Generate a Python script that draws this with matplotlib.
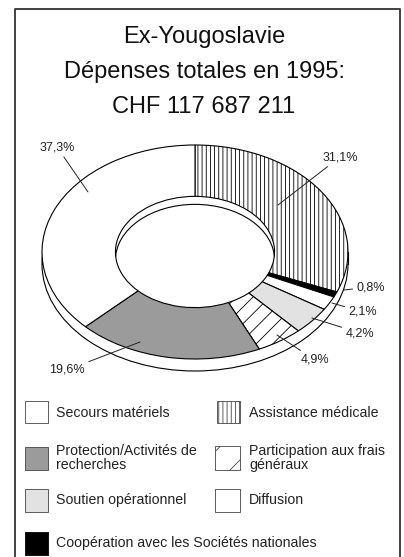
import matplotlib
matplotlib.use("Agg")
import matplotlib.pyplot as plt
from matplotlib.patches import Ellipse, Rectangle, Arc

# ---------------- data ----------------
categories = ["Assistance médicale", "Coopération avec les Sociétés nationales",
              "Diffusion", "Soutien opérationnel",
              "Participation aux frais\ngénéraux", "Protection/Activités de\nrecherches",
              "Secours matériels"]
values = [31.1, 0.8, 2.1, 4.2, 4.9, 19.6, 37.3]
title_lines = ["Ex-Yougoslavie", "Dépenses totales en 1995:", "CHF 117 687 211"]

# ---------------- styles ----------------
colors = ["white", "black", "white", "#e2e2e2", "white", "#9b9b9b", "white"]
hatches = ["||||", "", "", "", "//", "", ""]
FONT = ["Liberation Sans", "DejaVu Sans"]
plt.rcParams["font.family"] = FONT
plt.rcParams["hatch.linewidth"] = 0.6

W, H = 404, 557
fig = plt.figure(figsize=(W / 100, H / 100), dpi=100)
fig.patch.set_facecolor("white")

# pie geometry (reference pixels)
CX, CY, RX, RY = 195, 252, 153, 107
L = 1.3
ax = fig.add_axes([(CX - L * RX) / W, (H - (CY + L * RY)) / H,
                   2 * L * RX / W, 2 * L * RY / H])
INNER = 0.52
wedges, _ = ax.pie(values, colors=colors, hatch=hatches, startangle=90,
                   counterclock=False, radius=1,
                   wedgeprops=dict(width=1 - INNER, edgecolor="black", linewidth=0.8))
ax.set_aspect("auto")
ax.set_xlim(-L, L)
ax.set_ylim(-L, L)
ax.axis("off")

# 3D rim (side wall)
dd = 12 / RY
ax.add_patch(Ellipse((0, -dd), 2, 2, facecolor="white", edgecolor="black",
                     linewidth=0.8, zorder=0.1))
ax.add_patch(Rectangle((-1, -dd), 2, dd, facecolor="white", edgecolor="none", zorder=0.2))
ax.plot([-1, -1], [-dd, 0], color="black", lw=0.8, zorder=0.3)
ax.plot([1, 1], [-dd, 0], color="black", lw=0.8, zorder=0.3)
# inner wall visible at the far side of the hole
dd_in = 8 / RY
hole = Ellipse((0, 0), 2 * INNER, 2 * INNER, transform=ax.transData)
arc = Arc((0, -dd_in), 2 * INNER, 2 * INNER, theta1=0, theta2=180,
          color="black", lw=0.8, zorder=3)
ax.add_patch(arc)
arc.set_clip_path(hole)

# overlay axes in reference pixel coordinates
ov = fig.add_axes([0, 0, 1, 1])
ov.set_xlim(0, W)
ov.set_ylim(H, 0)
ov.axis("off")
ov.patch.set_visible(False)

# frame
ov.plot([15, 15, 400, 400], [H + 5, 9, 9, H + 5], color="#333333", lw=1.3, clip_on=False)

# title
for txt, yb in zip(title_lines, [43, 78, 113]):
    ov.text(204, yb, txt, ha="center", va="baseline", fontsize=17, color="#111111")

# percentage labels (text position, anchor) in reference pixels
label_layout = [((340, 157), (278, 205)),
                ((371, 287), (344, 290)),
                ((363, 312), (332, 303)),
                ((360, 333), (312, 318)),
                ((315, 360), (277, 335)),
                ((67, 370), (140, 342)),
                ((57, 147), (88, 192))]
for v, (tpos, apos) in zip(values, label_layout):
    ov.annotate(f"{v:.1f}%".replace(".", ","), xy=apos, xytext=tpos,
                ha="center", va="center", fontsize=9, color="#222222",
                arrowprops=dict(arrowstyle="-", lw=0.7, color="#222222",
                                shrinkA=1, shrinkB=0))

# legend (box x, box y, box w, box h, text x, text y) in reference pixels
legend_layout = {
    "Secours matériels": (25, 401, 23, 22, 56, 413),
    "Assistance médicale": (217, 401, 23, 22, 249, 413),
    "Protection/Activités de\nrecherches": (25, 447, 23, 23, 56, 458),
    "Participation aux frais\ngénéraux": (215, 446, 25, 24, 249, 458),
    "Soutien opérationnel": (25, 489, 23, 23, 56, 500),
    "Diffusion": (215, 489, 25, 23, 249, 500),
    "Coopération avec les Sociétés nationales": (25, 532, 23, 23, 56, 543),
}
legend_hatch = {"||||": "||||", "//": "/"}
for cat, col, hat in zip(categories, colors, hatches):
    bx, by, bw, bh, tx, ty = legend_layout[cat]
    ov.add_patch(Rectangle((bx, by), bw, bh, facecolor=col,
                           hatch=legend_hatch.get(hat, ""),
                           edgecolor="#444444" if col != "black" else "black", lw=0.6))
    ov.text(tx, ty, cat, ha="left", va="center", fontsize=10.2,
            linespacing=0.95, color="#222222")

fig.savefig("out.png", dpi=100, facecolor="white")
